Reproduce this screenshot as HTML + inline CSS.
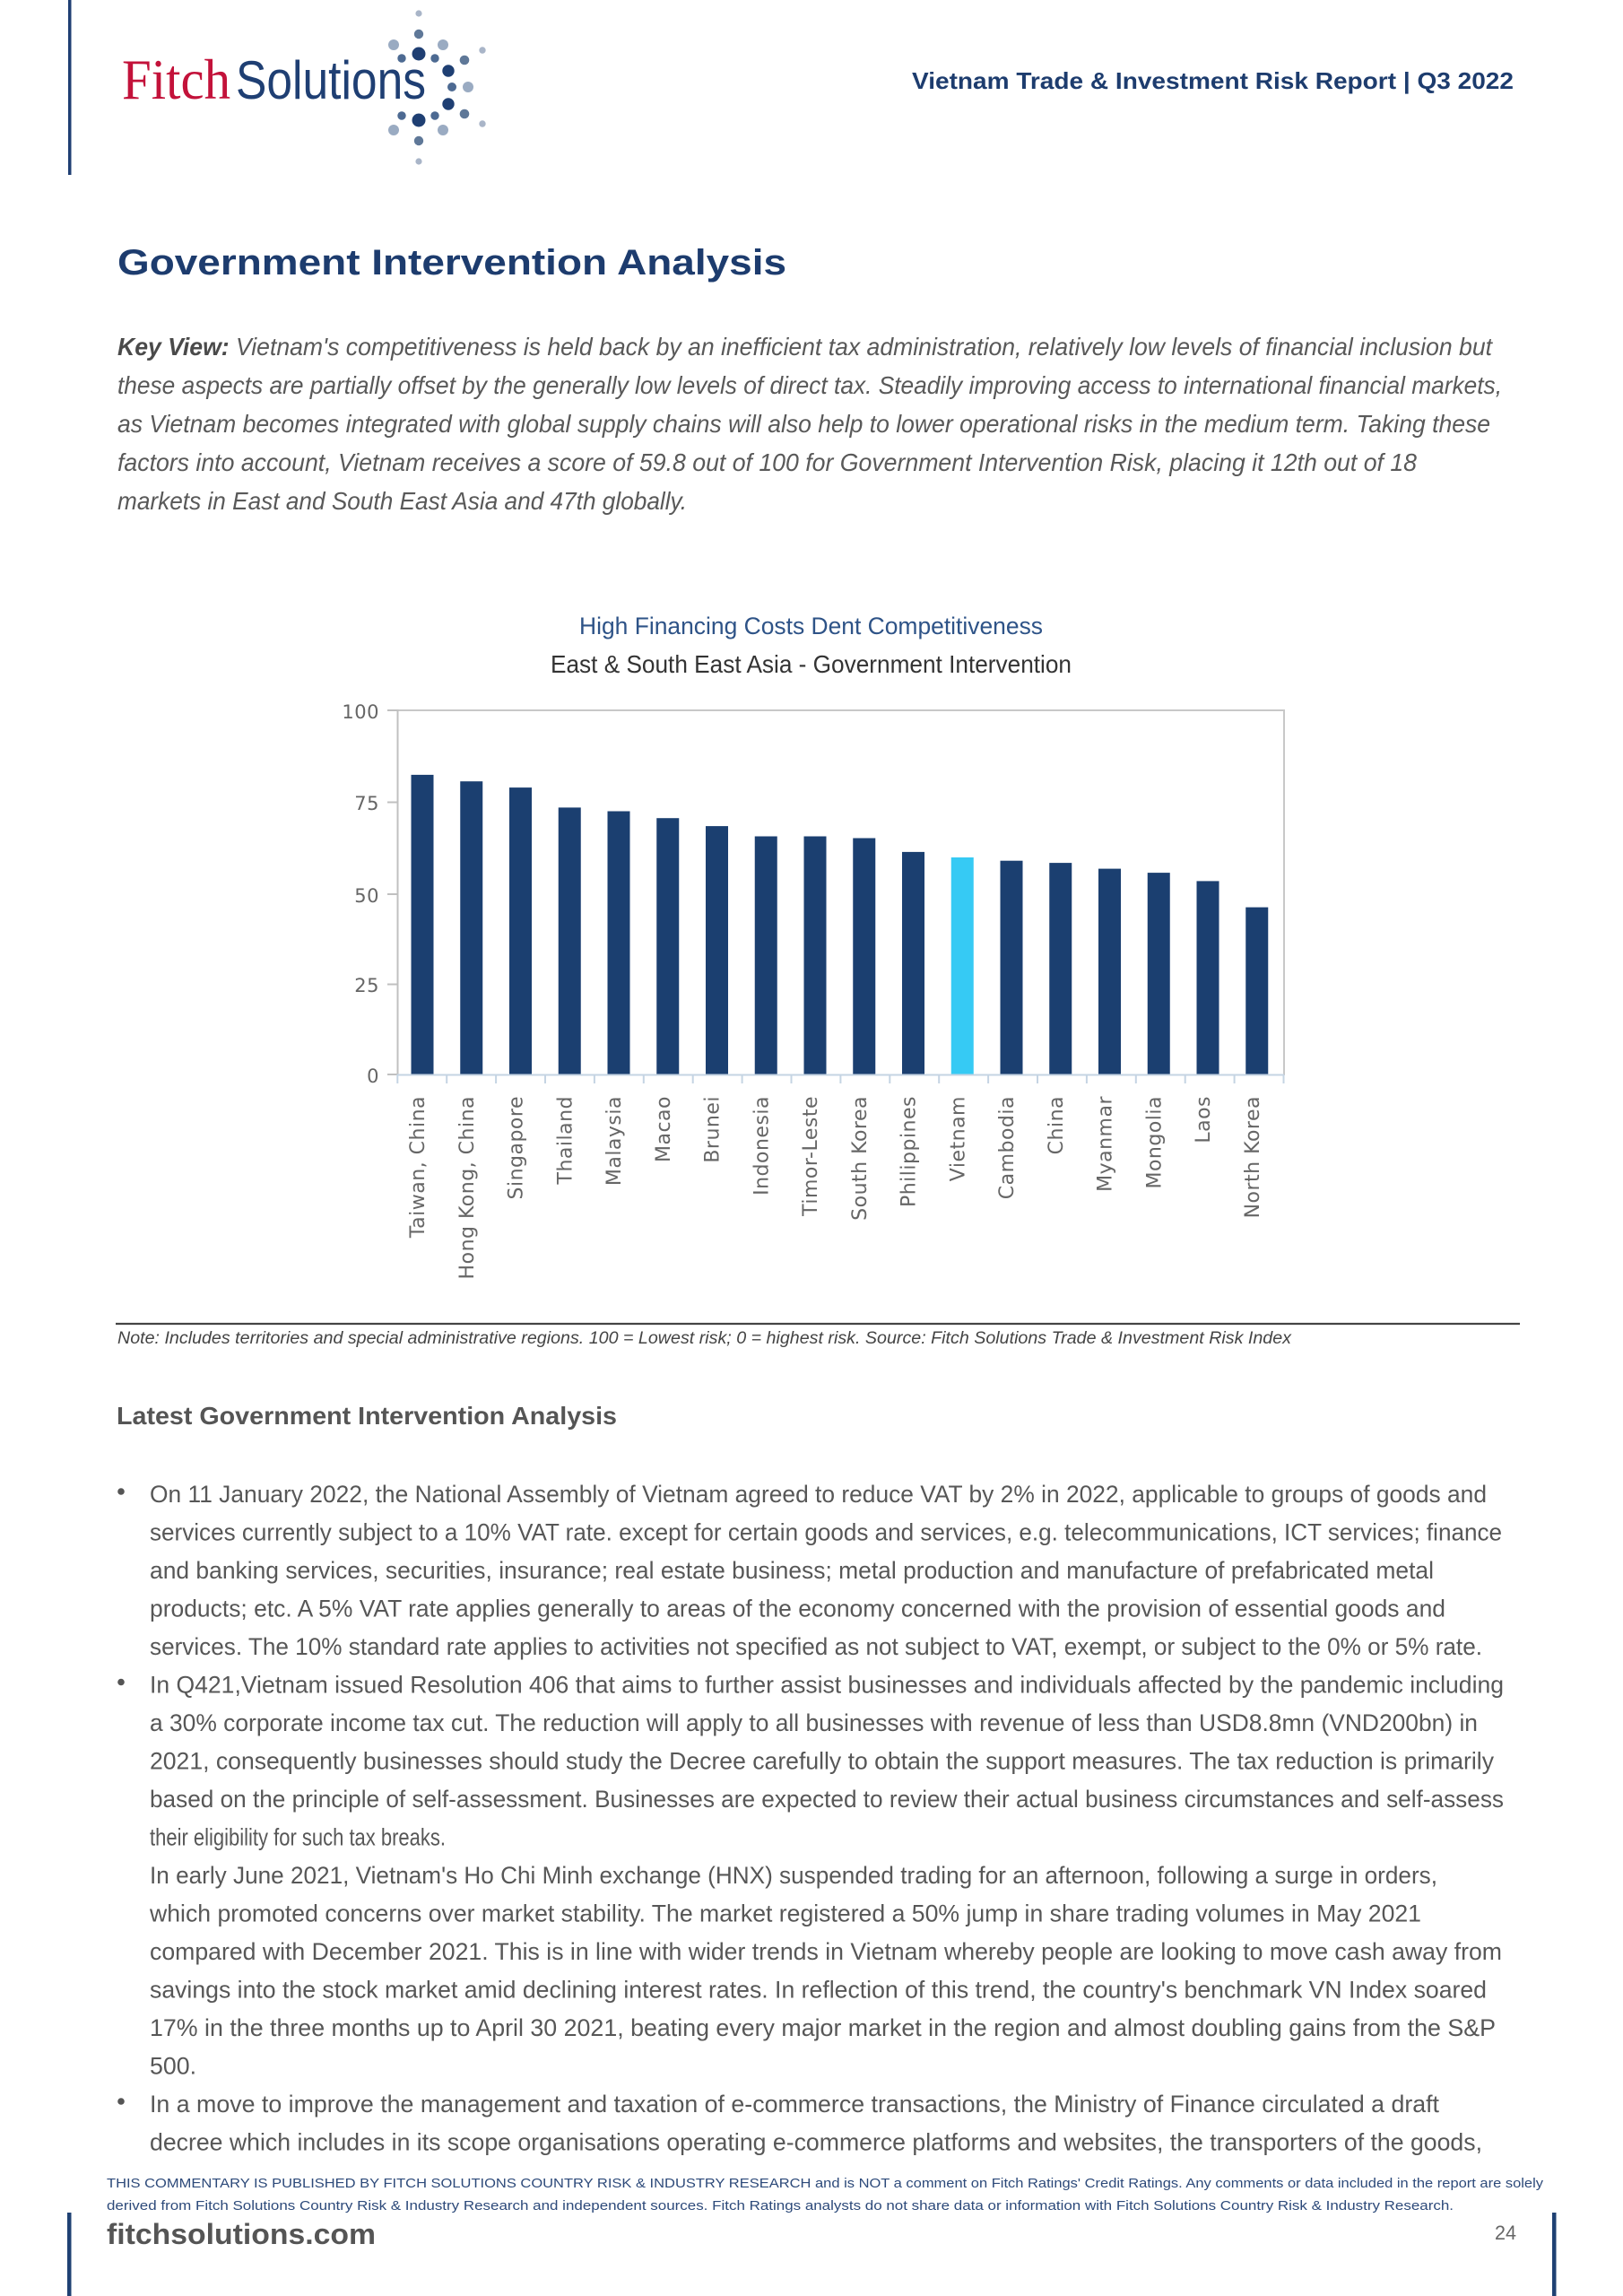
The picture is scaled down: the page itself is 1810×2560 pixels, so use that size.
<!DOCTYPE html>
<html>
<head>
<meta charset="utf-8">
<style>
  html, body { margin: 0; padding: 0; background: #ffffff; }
  svg { display: block; }
</style>
</head>
<body>
<svg width="1810" height="2560" viewBox="0 0 1810 2560" xmlns="http://www.w3.org/2000/svg" font-family="'Liberation Sans', sans-serif">
  <rect x="0" y="0" width="1810" height="2560" fill="#ffffff"/>

  <!-- header bar -->
  <rect x="76" y="0" width="3.5" height="195" fill="#1f3f73"/>

  <!-- logo -->
  <text x="136" y="110" font-family="'Liberation Serif', serif" font-size="64" fill="#c3123a" textLength="121" lengthAdjust="spacingAndGlyphs">Fitch</text>
  <text x="263" y="110" font-size="60" fill="#1f3f73" textLength="212" lengthAdjust="spacingAndGlyphs">Solutions</text>
  <g>
    <circle cx="467" cy="15" r="3.6" fill="#a9b5c8"/>
    <circle cx="467" cy="38" r="5.2" fill="#5f7898"/>
    <circle cx="439" cy="50" r="6" fill="#9aabc2"/>
    <circle cx="494" cy="50" r="6" fill="#9aabc2"/>
    <circle cx="467" cy="60" r="7.5" fill="#1f3f73"/>
    <circle cx="448" cy="65" r="4.7" fill="#4d6a92"/>
    <circle cx="485" cy="65" r="4.7" fill="#4d6a92"/>
    <circle cx="518" cy="67" r="5.3" fill="#5f7898"/>
    <circle cx="538" cy="56" r="3.7" fill="#a9b5c8"/>
    <circle cx="500" cy="79" r="6.7" fill="#1f3f73"/>
    <circle cx="504" cy="97" r="5" fill="#4d6a92"/>
    <circle cx="522" cy="97" r="6" fill="#9aabc2"/>
    <circle cx="500" cy="116" r="6.7" fill="#1f3f73"/>
    <circle cx="518" cy="127" r="5.3" fill="#5f7898"/>
    <circle cx="538" cy="138" r="3.7" fill="#a9b5c8"/>
    <circle cx="448" cy="129" r="4.7" fill="#4d6a92"/>
    <circle cx="485" cy="129" r="4.7" fill="#4d6a92"/>
    <circle cx="467" cy="134" r="7.5" fill="#1f3f73"/>
    <circle cx="439" cy="145" r="6" fill="#9aabc2"/>
    <circle cx="494" cy="145" r="6" fill="#9aabc2"/>
    <circle cx="467" cy="157" r="5.2" fill="#5f7898"/>
    <circle cx="467" cy="180" r="3.6" fill="#a9b5c8"/>
  </g>

  <!-- header text -->
  <text x="1017" y="99" font-size="26" font-weight="bold" fill="#1d3c6e" textLength="671" lengthAdjust="spacingAndGlyphs">Vietnam Trade &amp; Investment Risk Report | Q3 2022</text>

  <!-- main title -->
  <text x="131" y="306" font-size="40" font-weight="bold" fill="#1d3c6e" textLength="746" lengthAdjust="spacingAndGlyphs">Government Intervention Analysis</text>

  <!-- key view -->
  <g font-size="28" font-style="italic" fill="#595959">
    <text x="131" y="396" textLength="1533" lengthAdjust="spacingAndGlyphs"><tspan font-weight="bold" fill="#4a4a4a">Key View:</tspan> Vietnam's competitiveness is held back by an inefficient tax administration, relatively low levels of financial inclusion but</text>
    <text x="131" y="439" textLength="1544" lengthAdjust="spacingAndGlyphs">these aspects are partially offset by the generally low levels of direct tax. Steadily improving access to international financial markets,</text>
    <text x="131" y="482" textLength="1531" lengthAdjust="spacingAndGlyphs">as Vietnam becomes integrated with global supply chains will also help to lower operational risks in the medium term. Taking these</text>
    <text x="131" y="525" textLength="1449" lengthAdjust="spacingAndGlyphs">factors into account, Vietnam receives a score of 59.8 out of 100 for Government Intervention Risk, placing it 12th out of 18</text>
    <text x="131" y="568" textLength="635" lengthAdjust="spacingAndGlyphs">markets in East and South East Asia and 47th globally.</text>
  </g>

  <!-- chart titles -->
  <text x="646" y="707" font-size="26.5" fill="#2e5387" textLength="517" lengthAdjust="spacingAndGlyphs">High Financing Costs Dent Competitiveness</text>
  <text x="614" y="750" font-size="27.5" fill="#333333" textLength="581" lengthAdjust="spacingAndGlyphs">East &amp; South East Asia - Government Intervention</text>

  <!-- plot frame -->
  <line x1="443" y1="792" x2="1432" y2="792" stroke="#c8c8c8" stroke-width="2"/>
  <line x1="1432" y1="791" x2="1432" y2="1199" stroke="#c8c8c8" stroke-width="2"/>
  <line x1="443.5" y1="791" x2="443.5" y2="1199" stroke="#c0c0c0" stroke-width="2"/>

  <!-- y ticks -->
  <g stroke="#c0c0c0" stroke-width="2">
    <line x1="432" y1="792" x2="443" y2="792"/>
    <line x1="432" y1="894.5" x2="443" y2="894.5"/>
    <line x1="432" y1="997" x2="443" y2="997"/>
    <line x1="432" y1="1097.5" x2="443" y2="1097.5"/>
    <line x1="432" y1="1198" x2="443" y2="1198"/>
  </g>
  <g font-family="'DejaVu Sans', sans-serif" font-size="21" fill="#666666" text-anchor="end" letter-spacing="0.5">
    <text x="423" y="801">100</text>
    <text x="423" y="903">75</text>
    <text x="423" y="1006">50</text>
    <text x="423" y="1106">25</text>
    <text x="423" y="1207">0</text>
  </g>

  <!-- bars -->
  <g fill="#1b3f70">
    <rect x="458.5" y="863.9" width="25" height="334.1"/>
    <rect x="513.25" y="871.2" width="25" height="326.8"/>
    <rect x="568" y="878.1" width="25" height="319.9"/>
    <rect x="622.75" y="900.4" width="25" height="297.6"/>
    <rect x="677.5" y="904.5" width="25" height="293.5"/>
    <rect x="732.25" y="912.2" width="25" height="285.8"/>
    <rect x="787" y="921.1" width="25" height="276.9"/>
    <rect x="841.75" y="932.5" width="25" height="265.5"/>
    <rect x="896.5" y="932.5" width="25" height="265.5"/>
    <rect x="951.25" y="934.5" width="25" height="263.5"/>
    <rect x="1006" y="949.9" width="25" height="248.1"/>
    <rect x="1115.5" y="959.7" width="25" height="238.3"/>
    <rect x="1170.25" y="962.1" width="25" height="235.9"/>
    <rect x="1225" y="968.6" width="25" height="229.4"/>
    <rect x="1279.75" y="973.1" width="25" height="224.9"/>
    <rect x="1334.5" y="982.4" width="25" height="215.6"/>
    <rect x="1389.25" y="1011.6" width="25" height="186.4"/>
  </g>
  <rect x="1060.75" y="956" width="25" height="242" fill="#36caf4"/>

  <!-- x axis -->
  <line x1="443" y1="1198.5" x2="1432" y2="1198.5" stroke="#c5d4e3" stroke-width="2"/>
  <g stroke="#c5d4e3" stroke-width="2">
    <line x1="443.3" y1="1198" x2="443.3" y2="1208"/>
    <line x1="498.2" y1="1198" x2="498.2" y2="1208"/>
    <line x1="553.1" y1="1198" x2="553.1" y2="1208"/>
    <line x1="608" y1="1198" x2="608" y2="1208"/>
    <line x1="662.9" y1="1198" x2="662.9" y2="1208"/>
    <line x1="717.8" y1="1198" x2="717.8" y2="1208"/>
    <line x1="772.7" y1="1198" x2="772.7" y2="1208"/>
    <line x1="827.6" y1="1198" x2="827.6" y2="1208"/>
    <line x1="882.5" y1="1198" x2="882.5" y2="1208"/>
    <line x1="937.4" y1="1198" x2="937.4" y2="1208"/>
    <line x1="992.3" y1="1198" x2="992.3" y2="1208"/>
    <line x1="1047.2" y1="1198" x2="1047.2" y2="1208"/>
    <line x1="1102.1" y1="1198" x2="1102.1" y2="1208"/>
    <line x1="1157" y1="1198" x2="1157" y2="1208"/>
    <line x1="1211.9" y1="1198" x2="1211.9" y2="1208"/>
    <line x1="1266.8" y1="1198" x2="1266.8" y2="1208"/>
    <line x1="1321.7" y1="1198" x2="1321.7" y2="1208"/>
    <line x1="1376.6" y1="1198" x2="1376.6" y2="1208"/>
    <line x1="1431.5" y1="1198" x2="1431.5" y2="1208"/>
  </g>

  <!-- x labels -->
  <g font-family="'DejaVu Sans', sans-serif" font-size="22" fill="#666666" text-anchor="end" letter-spacing="0.5">
    <text transform="translate(473,1222) rotate(-90)">Taiwan, China</text>
    <text transform="translate(527.75,1222) rotate(-90)">Hong Kong, China</text>
    <text transform="translate(582.5,1222) rotate(-90)">Singapore</text>
    <text transform="translate(637.25,1222) rotate(-90)">Thailand</text>
    <text transform="translate(692,1222) rotate(-90)">Malaysia</text>
    <text transform="translate(746.75,1222) rotate(-90)">Macao</text>
    <text transform="translate(801.5,1222) rotate(-90)">Brunei</text>
    <text transform="translate(856.25,1222) rotate(-90)">Indonesia</text>
    <text transform="translate(911,1222) rotate(-90)">Timor-Leste</text>
    <text transform="translate(965.75,1222) rotate(-90)">South Korea</text>
    <text transform="translate(1020.5,1222) rotate(-90)">Philippines</text>
    <text transform="translate(1075.25,1222) rotate(-90)">Vietnam</text>
    <text transform="translate(1130,1222) rotate(-90)">Cambodia</text>
    <text transform="translate(1184.75,1222) rotate(-90)">China</text>
    <text transform="translate(1239.5,1222) rotate(-90)">Myanmar</text>
    <text transform="translate(1294.25,1222) rotate(-90)">Mongolia</text>
    <text transform="translate(1349,1222) rotate(-90)">Laos</text>
    <text transform="translate(1403.75,1222) rotate(-90)">North Korea</text>
  </g>

  <!-- note -->
  <line x1="129" y1="1476" x2="1695" y2="1476" stroke="#444444" stroke-width="2.2"/>
  <text x="131" y="1498" font-size="19.5" font-style="italic" fill="#444444" textLength="1309" lengthAdjust="spacingAndGlyphs">Note: Includes territories and special administrative regions. 100 = Lowest risk; 0 = highest risk. Source: Fitch Solutions Trade &amp; Investment Risk Index</text>

  <!-- subheading -->
  <text x="130" y="1588" font-size="28" font-weight="bold" fill="#555555" textLength="558" lengthAdjust="spacingAndGlyphs">Latest Government Intervention Analysis</text>

  <!-- bullets -->
  <g fill="#555555">
    <circle cx="135" cy="1663" r="3.8"/>
    <circle cx="135" cy="1875.5" r="3.8"/>
    <circle cx="135" cy="2343" r="3.8"/>
  </g>

  <g font-size="26.5" fill="#575757">
    <text x="167" y="1675" textLength="1491" lengthAdjust="spacingAndGlyphs">On 11 January 2022, the National Assembly of Vietnam agreed to reduce VAT by 2% in 2022, applicable to groups of goods and</text>
    <text x="167" y="1717.5" textLength="1508" lengthAdjust="spacingAndGlyphs">services currently subject to a 10% VAT rate. except for certain goods and services, e.g. telecommunications, ICT services; finance</text>
    <text x="167" y="1760" textLength="1432" lengthAdjust="spacingAndGlyphs">and banking services, securities, insurance; real estate business; metal production and manufacture of prefabricated metal</text>
    <text x="167" y="1802.5" textLength="1445" lengthAdjust="spacingAndGlyphs">products; etc. A 5% VAT rate applies generally to areas of the economy concerned with the provision of essential goods and</text>
    <text x="167" y="1845" textLength="1486" lengthAdjust="spacingAndGlyphs">services. The 10% standard rate applies to activities not specified as not subject to VAT, exempt, or subject to the 0% or 5% rate.</text>
    <text x="167" y="1887.5" textLength="1510" lengthAdjust="spacingAndGlyphs">In Q421,Vietnam issued Resolution 406 that aims to further assist businesses and individuals affected by the pandemic including</text>
    <text x="167" y="1930" textLength="1481" lengthAdjust="spacingAndGlyphs">a 30% corporate income tax cut. The reduction will apply to all businesses with revenue of less than USD8.8mn (VND200bn) in</text>
    <text x="167" y="1972.5" textLength="1499" lengthAdjust="spacingAndGlyphs">2021, consequently businesses should study the Decree carefully to obtain the support measures. The tax reduction is primarily</text>
    <text x="167" y="2015" textLength="1510" lengthAdjust="spacingAndGlyphs">based on the principle of self-assessment. Businesses are expected to review their actual business circumstances and self-assess</text>
    <text x="167" y="2057.5" textLength="330" lengthAdjust="spacingAndGlyphs">their eligibility for such tax breaks.</text>
    <text x="167" y="2100" textLength="1436" lengthAdjust="spacingAndGlyphs">In early June 2021, Vietnam's Ho Chi Minh exchange (HNX) suspended trading for an afternoon, following a surge in orders,</text>
    <text x="167" y="2142.5" textLength="1418" lengthAdjust="spacingAndGlyphs">which promoted concerns over market stability. The market registered a 50% jump in share trading volumes in May 2021</text>
    <text x="167" y="2185" textLength="1508" lengthAdjust="spacingAndGlyphs">compared with December 2021. This is in line with wider trends in Vietnam whereby people are looking to move cash away from</text>
    <text x="167" y="2227.5" textLength="1491" lengthAdjust="spacingAndGlyphs">savings into the stock market amid declining interest rates. In reflection of this trend, the country's benchmark VN Index soared</text>
    <text x="167" y="2270" textLength="1501" lengthAdjust="spacingAndGlyphs">17% in the three months up to April 30 2021, beating every major market in the region and almost doubling gains from the S&amp;P</text>
    <text x="167" y="2312.5" textLength="52" lengthAdjust="spacingAndGlyphs">500.</text>
    <text x="167" y="2355" textLength="1438" lengthAdjust="spacingAndGlyphs">In a move to improve the management and taxation of e-commerce transactions, the Ministry of Finance circulated a draft</text>
    <text x="167" y="2397.5" textLength="1486" lengthAdjust="spacingAndGlyphs">decree which includes in its scope organisations operating e-commerce platforms and websites, the transporters of the goods,</text>
  </g>

  <!-- disclaimer -->
  <g font-size="15" fill="#2d4a7a">
    <text x="119" y="2439" textLength="1602" lengthAdjust="spacingAndGlyphs">THIS COMMENTARY IS PUBLISHED BY FITCH SOLUTIONS COUNTRY RISK &amp; INDUSTRY RESEARCH and is NOT a comment on Fitch Ratings' Credit Ratings. Any comments or data included in the report are solely</text>
    <text x="119" y="2464" textLength="1502" lengthAdjust="spacingAndGlyphs">derived from Fitch Solutions Country Risk &amp; Industry Research and independent sources. Fitch Ratings analysts do not share data or information with Fitch Solutions Country Risk &amp; Industry Research.</text>
  </g>

  <!-- footer -->
  <rect x="75" y="2467" width="4.5" height="93" fill="#1f4173"/>
  <rect x="1731" y="2467" width="4.5" height="93" fill="#1f4173"/>
  <text x="119" y="2502" font-size="32" font-weight="bold" fill="#555555" textLength="300" lengthAdjust="spacingAndGlyphs">fitchsolutions.com</text>
  <text x="1667" y="2497" font-size="22" fill="#666666" textLength="24" lengthAdjust="spacingAndGlyphs">24</text>
</svg>
</body>
</html>
